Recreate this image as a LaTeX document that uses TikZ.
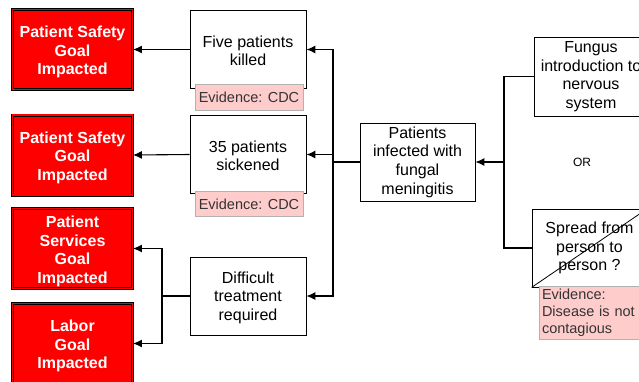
\documentclass[tikz,border=0pt]{standalone}
\usepackage{fontspec}
\setmainfont{Liberation Sans}
\tikzset{>=latex}
\usetikzlibrary{arrows.meta}
\newcommand{\topgap}[1]{\rule{0pt}{#1}}

\begin{document}
\begin{tikzpicture}[x=1pt,y=-1pt]
			\tikzset{edge/.style = {-{Latex[length=9pt,width=8pt]},line width=1.1pt}}
			\tikzset{link/.style = {line width=1.1pt}}
			\tikzset{goal/.style = {rectangle,fill=red,draw=black,double=red,double distance=1.2pt,line width=0.9pt,text=white,font=\bfseries\fontsize{16}{18.5}\selectfont,align=center,minimum width=120pt,minimum height=80pt,inner sep=0pt}}
			\tikzset{fact/.style = {rectangle,draw=black,fill=white,line width=0.8pt,font=\fontsize{16}{18.6}\selectfont,align=center,minimum width=116pt,minimum height=78pt,inner sep=0pt}}
			\tikzset{evidence/.style = {rectangle,draw=black!30,fill=red!20,line width=0.8pt,text=black!80,font=\fontsize{14.5}{17}\selectfont,inner sep=2pt}}

			\useasboundingbox (0,0) rectangle (639,381);

			\node[goal] (g1) at (72.5,49.5) {\topgap{17pt}Patient Safety\\Goal\\Impacted};
			\node[goal] (g2) at (72.5,155) {\topgap{17pt}Patient Safety\\Goal\\Impacted};
			\node[goal] (g3) at (72.5,248.5) {\topgap{17pt}Patient\\Services\\Goal\\Impacted};
			\node[goal] (g4) at (72.5,343.5) {\topgap{17pt}Labor\\Goal\\Impacted};

			\node[fact] (killed) at (248,49.5) {\topgap{14.5pt}Five patients\\killed};
			\node[evidence,minimum width=108pt,minimum height=26pt] (ev1) at (249,97) {Evidence: CDC};
			\node[fact] (sick) at (248,154.5) {\topgap{14.5pt}35 patients\\sickened};
			\node[evidence,minimum width=108pt,minimum height=25pt] (ev2) at (249,204) {Evidence: CDC};
			\node[fact] (treat) at (248,296) {\topgap{15pt}Difficult\\treatment\\required};

			\node[fact,minimum width=115pt] (infected) at (417.5,162) {Patients\\infected with\\fungal\\meningitis};

			\node[fact,minimum width=114pt,minimum height=79pt] (fungus) at (591,76.5) {Fungus\\introduction to\\nervous\\system};
			\node[font=\fontsize{12}{14}\selectfont] (or) at (582,162) {OR};
			\node[fact,minimum width=115pt] (spread) at (589.5,248) {Spread from\\person to\\person ?};
			\draw[line width=0.8pt] (spread.south west) -- (spread.north east);
			\node[evidence,text width=96pt,inner xsep=3pt,minimum height=53pt,align=left] (ev3) at (590,312.5) {Evidence:\\Disease is not\\contagious};

			\coordinate (jl) at (333,162);
			\coordinate (jr) at (504,162);
			\coordinate (jt) at (162,296);

			\draw[link] (infected.west) -- (jl);
			\draw[edge] (jl) |- (killed.east);
			\draw[edge] (jl) |- (sick.east);
			\draw[edge] (jl) |- (treat.east);

			\draw[link] (fungus.west) -| (jr);
			\draw[link] (spread.west) -| (jr);
			\draw[edge] (jr) -- (infected.east);

			\draw[edge] (killed.west) -- (g1.east);
			\draw[edge] (sick.west) -- (g2.east);
			\draw[link] (treat.west) -- (jt);
			\draw[edge] (jt) |- (g3.east);
			\draw[edge] (jt) |- (g4.east);
		\end{tikzpicture}
\end{document}
